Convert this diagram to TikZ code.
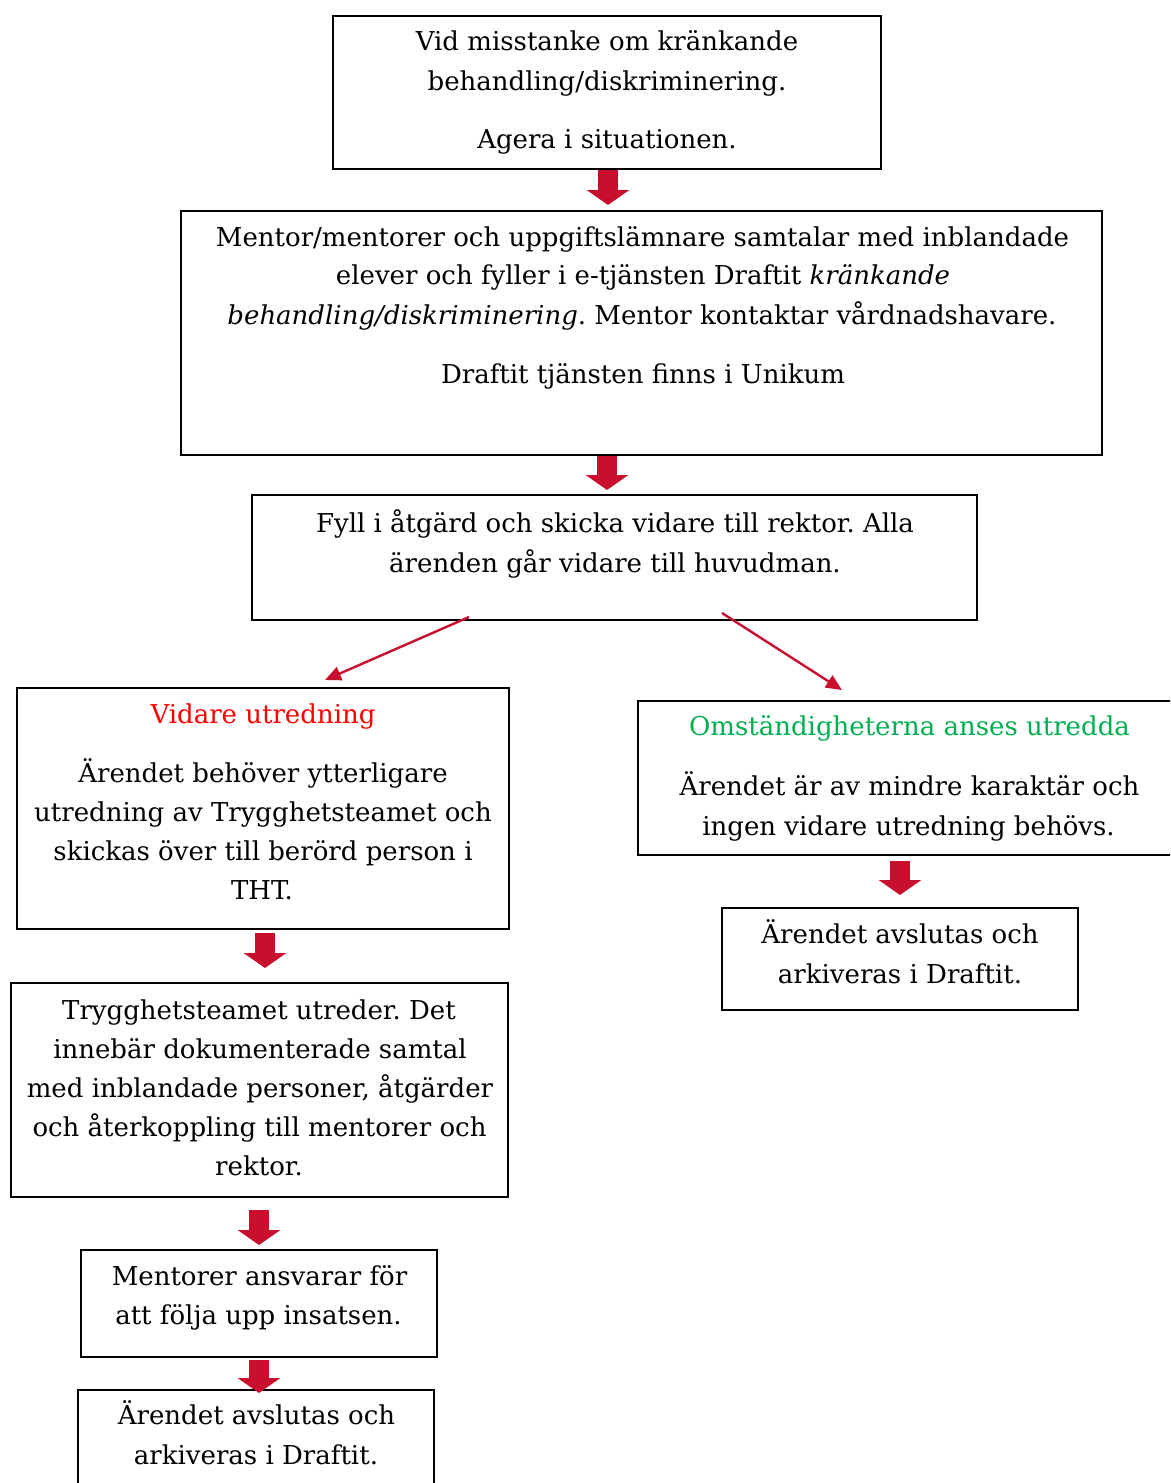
\documentclass[tikz,border=0pt]{standalone}
\usepackage{fontspec}
\setmainfont{DejaVu Serif}
\usetikzlibrary{arrows.meta}
\definecolor{arrowred}{RGB}{200,16,46}
\definecolor{headred}{RGB}{255,0,0}
\definecolor{headgreen}{RGB}{0,176,80}
\frenchspacing
\tikzset{
  box/.style={draw=black, line width=2.8pt, fill=none, inner sep=0pt, outer sep=0pt},
  txt/.style={anchor=base, inner sep=0pt, font=\fontsize{26}{30}\selectfont},
  blk/.style={draw=arrowred, line width=20pt, -{Triangle[width=42pt,length=15pt,fill=arrowred]}},
  thin/.style={draw=arrowred, line width=2.4pt, -{Triangle[width=14pt,length=16pt,fill=arrowred]}}
}
\begin{document}
\begin{tikzpicture}[x=1pt,y=-1pt]
\useasboundingbox (0,0) rectangle (1170,1483);
\clip (0,0) rectangle (1170,1483);
% boxes
\node[box, minimum width=548pt, minimum height=153pt] (A) at (607,92.5) {};
\node[box, minimum width=921pt, minimum height=244pt] (B) at (641.5,333) {};
\node[box, minimum width=725pt, minimum height=125pt] (C) at (614.5,557.5) {};
\node[box, minimum width=492pt, minimum height=241pt] (D) at (263,808.5) {};
\node[box, minimum width=547pt, minimum height=154pt] (E) at (911.5,778) {};
\node[box, minimum width=356pt, minimum height=102pt] (F) at (900,959) {};
\node[box, minimum width=497pt, minimum height=214pt] (G) at (259.5,1090) {};
\node[box, minimum width=356pt, minimum height=107pt] (H) at (259,1303.5) {};
\node[box, minimum width=356pt, minimum height=120pt] (I) at (256,1450) {};
% texts
\node[txt] (a1) at (607,50) {Vid misstanke om kränkande};
\node[txt] (a2) at (607,90) {behandling/diskriminering.};
\node[txt] (a3) at (607,148) {Agera i situationen.};
\node[txt] (b1) at (642.5,246) {Mentor/mentorer och uppgiftslämnare samtalar med inblandade};
\node[txt] (b2) at (643,284) {elever och fyller i e-tjänsten Draftit \textit{kränkande}};
\node[txt] (b3) at (642,324) {\textit{behandling/diskriminering}. Mentor kontaktar vårdnadshavare.};
\node[txt] (b4) at (643,383) {Draftit tjänsten finns i Unikum};
\node[txt] (c1) at (615,532) {Fyll i åtgärd och skicka vidare till rektor. Alla};
\node[txt] (c2) at (615,572) {ärenden går vidare till huvudman.};
\node[txt, text=headred] (d1) at (263,723) {Vidare utredning};
\node[txt] (d2) at (263,782) {Ärendet behöver ytterligare};
\node[txt] (d3) at (263,821) {utredning av Trygghetsteamet och};
\node[txt] (d4) at (263,860) {skickas över till berörd person i};
\node[txt] (d5) at (262,899) {THT.};
\node[txt, text=headgreen] (e1) at (909.5,735) {Omständigheterna anses utredda};
\node[txt] (e2) at (909.5,795) {Ärendet är av mindre karaktär och};
\node[txt] (e3) at (908.5,835) {ingen vidare utredning behövs.};
\node[txt] (f1) at (900,943) {Ärendet avslutas och};
\node[txt] (f2) at (900,983) {arkiveras i Draftit.};
\node[txt] (g1) at (259,1019) {Trygghetsteamet utreder. Det};
\node[txt] (g2) at (260,1058) {innebär dokumenterade samtal};
\node[txt] (g3) at (260,1097) {med inblandade personer, åtgärder};
\node[txt] (g4) at (259.5,1136) {och återkoppling till mentorer och};
\node[txt] (g5) at (259,1175) {rektor.};
\node[txt] (h1) at (259.5,1285) {Mentorer ansvarar för};
\node[txt] (h2) at (258.5,1324) {att följa upp insatsen.};
\node[txt] (i1) at (256.5,1424) {Ärendet avslutas och};
\node[txt] (i2) at (256,1464) {arkiveras i Draftit.};
% block arrows
\draw[blk] ([xshift=1pt,yshift=-1pt]A.south) -- ([xshift=1pt,yshift=6pt]A.south |- B.north);
\draw[blk] ([yshift=-1pt]B.south -| A.south) -- ([yshift=5pt]C.north -| A.south);
\draw[blk] ([xshift=2pt,yshift=-4pt]D.south) -- ([xshift=5.5pt,yshift=15pt]G.north);
\draw[blk] ([yshift=-6pt]E.south -| F.north) -- ([yshift=13pt]F.north);
\draw[blk] ([yshift=-13pt]G.south -| H.north) -- ([yshift=5pt]H.north);
\draw[blk] ([yshift=-3pt]H.south) -- ([yshift=-3pt]I.north -| H.south);
% thin arrows
\coordinate (cl) at (469,617);
\coordinate (dl) at (325,680);
\coordinate (cr) at (722,613);
\coordinate (er) at (842,690);
\draw[thin] (cl) -- (dl);
\draw[thin] (cr) -- (er);
\end{tikzpicture}
\end{document}
